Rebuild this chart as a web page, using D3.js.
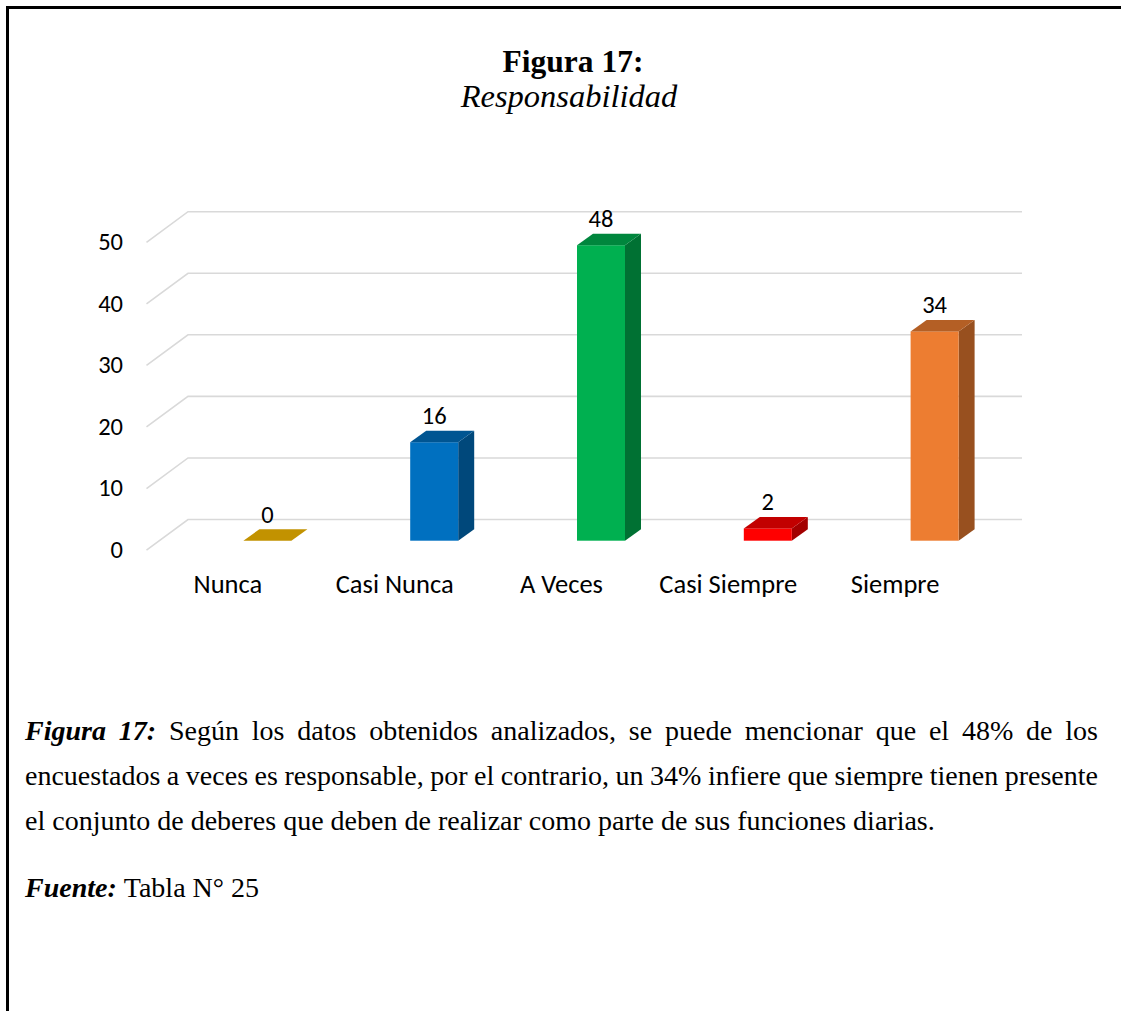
<!DOCTYPE html>
<html>
<head>
<meta charset="utf-8">
<script src="https://cdn.jsdelivr.net/npm/d3@7"></script>
<style>
  html, body { margin: 0; padding: 0; background: #fff; }
  svg { display: block; }
</style>
</head>
<body>
<script>
// Survey answers for "Responsabilidad"
const categories = ["Nunca", "Casi Nunca", "A Veces", "Casi Siempre", "Siempre"];
const values = [0, 16, 48, 2, 34];
const yTicks = [0, 10, 20, 30, 40, 50];
const barColors = ["#FFC000", "#0070C0", "#00B050", "#FF0000", "#ED7D31"];

const W = 1121, H = 1011;
const svg = d3.select("body").append("svg").attr("width", W).attr("height", H);

// Page frame (top and left rules)
svg.append("rect").attr("x", 6).attr("y", 6).attr("width", W - 6).attr("height", 3).attr("fill", "#000");
svg.append("rect").attr("x", 6).attr("y", 6).attr("width", 3).attr("height", H - 6).attr("fill", "#000");

// Title
const serif = "'Liberation Serif', 'Times New Roman', serif";
svg.append("text").attr("x", 573).attr("y", 72).attr("text-anchor", "middle")
  .style("font-family", serif).style("font-weight", "bold").style("font-size", "31.5px")
  .text("Figura 17:");
svg.append("text").attr("x", 569).attr("y", 107).attr("text-anchor", "middle")
  .style("font-family", serif).style("font-style", "italic").style("font-size", "32.5px")
  .text("Responsabilidad");

// 3D column chart geometry
const sans = "Calibri, Carlito, Lato, 'Noto Sans', sans-serif";
const x = d3.scaleBand().domain(categories).range([188, 1022]);
const yBack = d3.scaleLinear().domain([0, 50]).range([519.5, 211.7]);
const FLOOR_DX = 41.5, FLOOR_DY = 30.6;   // depth of the floor / wall grid
const BAR_OFF_Y = 21.2, BAR_SHIFT_X = -4; // bar front plane relative to back wall
const BAR_W = 48, BAR_DX = 16, BAR_DY = 11.5;
const yFront = v => yBack(v) + BAR_OFF_Y;

// Gridlines: back wall line plus the diagonal on the side wall
const grid = svg.append("g").attr("fill", "none").attr("stroke", "#D9D9D9").attr("stroke-width", 1.6);
yTicks.forEach(t => {
  const yb = yBack(t);
  grid.append("path").attr("d", d3.line()([
    [x.range()[0] - FLOOR_DX, yb + FLOOR_DY],
    [x.range()[0], yb],
    [x.range()[1], yb]
  ]));
});

// Value axis labels
svg.append("g").selectAll("text").data(yTicks).join("text")
  .attr("x", 123)
  .attr("y", d => yBack(d) + FLOOR_DY + 2)
  .attr("text-anchor", "end").attr("dominant-baseline", "middle")
  .style("font-family", sans).style("font-size", "24.5px").attr("fill", "#000")
  .text(d => d);

// Bars
const bars = svg.append("g");
categories.forEach((c, i) => {
  const v = values[i];
  const base = d3.color(barColors[i]);
  const top = d3.rgb(base.r * 0.76, base.g * 0.76, base.b * 0.76);
  const side = d3.rgb(base.r * 0.64, base.g * 0.64, base.b * 0.64);
  const cx = x(c) + x.bandwidth() / 2 + BAR_SHIFT_X;
  const l = cx - BAR_W / 2, r = cx + BAR_W / 2;
  const yb = yFront(0), yt = yFront(v);
  const g = bars.append("g");
  if (v > 0) {
    g.append("path").attr("fill", side.formatHex()).attr("d", d3.line()([
      [r, yb], [r + BAR_DX, yb - BAR_DY], [r + BAR_DX, yt - BAR_DY], [r, yt]
    ]) + "Z");
    g.append("rect").attr("x", l).attr("y", yt).attr("width", BAR_W).attr("height", yb - yt)
      .attr("fill", base.formatHex());
  }
  g.append("path").attr("fill", top.formatHex()).attr("d", d3.line()([
    [l, yt], [l + BAR_DX, yt - BAR_DY], [r + BAR_DX, yt - BAR_DY], [r, yt]
  ]) + "Z");
  // value label
  g.append("text").attr("x", cx).attr("y", yt - 18).attr("text-anchor", "middle")
    .style("font-family", sans).style("font-size", "24.5px").attr("fill", "#000")
    .text(v);
});

// Category labels along the front edge of the floor
svg.append("g").selectAll("text").data(categories).join("text")
  .attr("x", d => x(d) + x.bandwidth() / 2 - 43.5)
  .attr("y", 593)
  .attr("text-anchor", "middle")
  .style("font-family", sans).style("font-size", "26.5px").attr("fill", "#000")
  .text(d => d);

// Commentary paragraph, justified line by line
const textLeft = 25, textRight = 1098;
const paragraph = [
  { y: 740, justify: true, parts: [
    { t: "Figura 17:", b: true, i: true },
    { t: "Según los datos obtenidos analizados, se puede mencionar que el 48% de los" }
  ]},
  { y: 785, justify: true, parts: [
    { t: "encuestados a veces es responsable, por el contrario, un 34% infiere que siempre tienen presente" }
  ]},
  { y: 830, justify: false, parts: [
    { t: "el conjunto de deberes que deben de realizar como parte de sus funciones diarias." }
  ]},
  { y: 897, justify: false, parts: [
    { t: "Fuente:", b: true, i: true },
    { t: "Tabla N° 25" }
  ]}
];

const para = svg.append("g").style("font-family", serif).style("font-size", "28px").attr("fill", "#000");
paragraph.forEach(line => {
  const words = [];
  line.parts.forEach(p => p.t.split(" ").forEach(w => words.push({ w, b: p.b, i: p.i })));
  const nodes = words.map(wd => para.append("text")
    .attr("y", line.y)
    .style("font-weight", wd.b ? "bold" : "normal")
    .style("font-style", wd.i ? "italic" : "normal")
    .text(wd.w));
  const widths = nodes.map(n => n.node().getComputedTextLength());
  const total = d3.sum(widths);
  const gap = line.justify ? (textRight - textLeft - total) / (words.length - 1) : 7;
  let cx = textLeft;
  nodes.forEach((n, k) => { n.attr("x", cx); cx += widths[k] + gap; });
});
</script>
</body>
</html>
